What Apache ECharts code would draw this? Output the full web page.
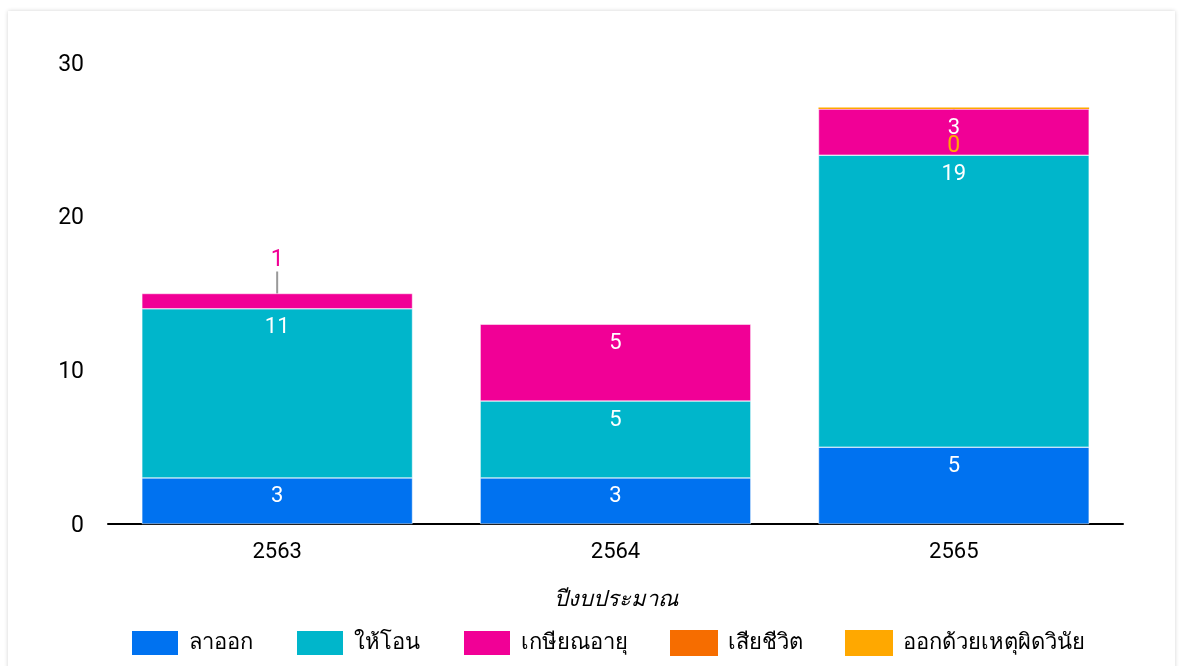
<!DOCTYPE html>
<html>
<head>
<meta charset="utf-8">
<script src="https://cdn.jsdelivr.net/npm/echarts@6/dist/echarts.min.js"></script>
<style>
  html, body { margin: 0; padding: 0; background: #fff; overflow: hidden; }
  #card { position: absolute; left: 8px; top: 11px; width: 1167px; height: 700px; background: #fff;
          box-shadow: 0 0 4px rgba(0,0,0,0.18); }
  #chart { position: absolute; left: 0; top: 0; width: 1183px; height: 666px; }
</style>
</head>
<body>
<div id="card"></div>
<div id="chart"></div>
<script>
var years = ['2563', '2564', '2565'];
var resign = [3, 3, 5];
var transfer = [11, 5, 19];
var retire = [1, 5, 3];
var died = [0, 0, 0];
var discipline = [0, 0, 0.1];
var yTicks = [0, 10, 20, 30];

var font = 'Roboto, "Noto Sans", sans-serif';
var colors = ['#0072f0', '#00b6cb', '#f10096', '#f66d00', '#ffa800'];

function insideLabel() {
    return {
        show: true,
        position: 'insideTop',
        distance: 8,
        color: '#fff',
        fontSize: 22,
        fontFamily: font
    };
}

var chart = echarts.init(document.getElementById('chart'));
chart.setOption({
    animation: false,
    color: colors,
    grid: { left: 108, right: 60, top: 63, bottom: 142 },
    legend: {
        bottom: 4,
        left: 125,
        itemWidth: 48,
        itemHeight: 26,
        itemGap: 42,
        icon: 'rect',
        textStyle: { fontSize: 22, color: '#000', fontFamily: font, padding: [0, 0, 0, 5] }
    },
    xAxis: {
        type: 'category',
        data: years,
        name: 'ปีงบประมาณ',
        nameLocation: 'middle',
        nameGap: 65,
        nameTextStyle: { fontSize: 22, fontStyle: 'italic', color: '#000', fontFamily: font },
        axisLine: { lineStyle: { color: '#000', width: 2 } },
        axisTick: { show: false },
        axisLabel: { fontSize: 22, color: '#000', margin: 17, fontFamily: font }
    },
    yAxis: {
        type: 'value',
        min: yTicks[0],
        max: yTicks[yTicks.length - 1],
        interval: 10,
        splitLine: { show: false },
        axisLabel: { fontSize: 23, color: '#000', margin: 24, fontFamily: font, lineHeight: 28, verticalAlign: 'top', padding: [-12, 0, 0, 0] }
    },
    series: [
        {
            name: 'ลาออก', type: 'bar', stack: 'all', barWidth: '80%',
            data: resign, label: insideLabel(),
            itemStyle: { borderColor: '#fff', borderWidth: 0.5 }
        },
        {
            name: 'ให้โอน', type: 'bar', stack: 'all',
            data: transfer, label: insideLabel(),
            itemStyle: { borderColor: '#fff', borderWidth: 0.5 }
        },
        {
            name: 'เกษียณอายุ', type: 'bar', stack: 'all',
            data: retire.map(function (v, i) {
                if (i === 0) {
                    return {
                        value: v,
                        label: { position: 'top', color: '#f10096', fontSize: 23, distance: 2 }
                    };
                }
                return v;
            }),
            label: insideLabel(),
            labelLine: { show: true, lineStyle: { color: '#999', width: 2 } },
            labelLayout: function (p) {
                if (p.dataIndex === 0) return { dy: -20 };
                return {};
            },
            itemStyle: { borderColor: '#fff', borderWidth: 0.5 }
        },
        {
            name: 'เสียชีวิต', type: 'bar', stack: 'all',
            data: died.map(function (v) { return v === 0 ? '-' : v; })
        },
        {
            name: 'ออกด้วยเหตุผิดวินัย', type: 'bar', stack: 'all',
            data: discipline.map(function (v) { return v === 0 ? '-' : v; }),
            label: {
                show: true, position: 'bottom', distance: 2,
                color: '#ffa800', fontSize: 23, fontFamily: font,
                formatter: function (p) { return Math.round(p.value); }
            },
            labelLine: { show: true, lineStyle: { color: '#999', width: 2 } },
            labelLayout: { dy: 24 }
        }
    ]
});
</script>
</body>
</html>
